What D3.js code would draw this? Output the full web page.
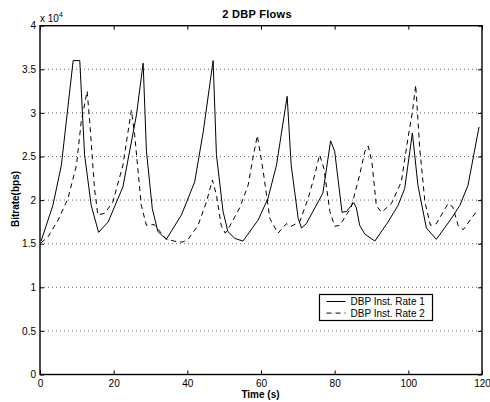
<!DOCTYPE html>
<html>
<head>
<meta charset="utf-8">
<script src="https://cdn.jsdelivr.net/npm/d3@7"></script>
<style>
  body { margin: 0; background: #fff; }
  svg text { font-family: "Liberation Sans", Arial, Helvetica, sans-serif; fill: #000; }
  .axis path { display: none; }
  .axis line { stroke: #000; stroke-width: 1; }
  .axis text { font-size: 10px; }
</style>
</head>
<body>
<div id="chart"></div>
<script>
// rates are in units of 10^4 bps
var time1 = [0.3, 3.5, 5.8, 9.0, 10.8, 12.1, 13.9, 15.9, 18.5, 22.5, 26.2, 28.0, 28.9, 30.5, 32.0, 34.3, 38.4, 42.0, 44.3, 47.0,
  47.9, 49.7, 51.0, 52.9, 55.1, 59.2, 61.9, 64.2, 67.1, 68.2, 70.1, 71.0, 72.3, 76.8, 78.9, 80.0, 82.0, 83.2, 85.2, 85.9,
  86.8, 88.2, 90.9, 94.5, 97.2, 99.0, 101.1, 102.6, 104.9, 107.6, 111.7, 114.0, 116.2, 119.2];
var rate1 = [1.53, 1.94, 2.40, 3.60, 3.60, 2.52, 1.94, 1.63, 1.75, 2.15, 2.98, 3.57, 2.56, 1.90, 1.64, 1.55, 1.83, 2.21, 2.78, 3.60,
  2.52, 1.87, 1.64, 1.56, 1.53, 1.77, 2.02, 2.40, 3.19, 2.40, 1.79, 1.68, 1.73, 2.08, 2.68, 2.56, 1.86, 1.87, 1.97, 1.91,
  1.71, 1.61, 1.53, 1.75, 1.94, 2.13, 2.77, 2.17, 1.68, 1.55, 1.79, 1.94, 2.17, 2.84];

var time2 = [0.3, 2.2, 4.9, 7.6, 9.9, 11.2, 12.8, 13.5, 14.8, 15.7, 17.6, 19.8, 22.5, 24.8, 25.7, 27.5, 28.9, 31.0, 34.3, 37.5,
  38.8, 40.2, 42.9, 45.2, 46.8, 47.9, 49.2, 50.3, 51.5, 54.2, 56.5, 57.8, 59.0, 60.5, 62.4, 64.6, 66.9, 68.2, 70.5, 72.8,
  74.6, 75.9, 77.1, 78.7, 80.0, 81.4, 84.5, 86.8, 88.2, 89.1, 90.1, 91.3, 92.7, 95.4, 98.1, 99.9, 101.1, 102.0, 103.1, 104.5,
  106.0, 107.6, 110.8, 112.1, 113.5, 114.9, 117.1, 118.9];
var rate2 = [1.51, 1.58, 1.77, 2.02, 2.40, 2.90, 3.25, 2.90, 2.13, 1.83, 1.85, 1.98, 2.40, 3.03, 2.75, 1.94, 1.71, 1.72, 1.55, 1.52,
  1.52, 1.55, 1.71, 1.98, 2.23, 2.06, 1.71, 1.62, 1.70, 1.91, 2.17, 2.48, 2.74, 2.36, 1.79, 1.62, 1.73, 1.70, 1.75, 2.02,
  2.29, 2.52, 2.36, 1.87, 1.70, 1.71, 1.92, 2.29, 2.56, 2.62, 2.44, 1.94, 1.86, 1.96, 2.21, 2.71, 3.01, 3.32, 2.59, 1.98,
  1.71, 1.73, 1.96, 1.92, 1.71, 1.66, 1.79, 1.89];

var xTicks = [0, 20, 40, 60, 80, 100, 120];
var yTicks = [0, 0.5, 1, 1.5, 2, 2.5, 3, 3.5, 4];
var seriesNames = ["DBP Inst. Rate 1", "DBP Inst. Rate 2"];

var W = 490, H = 402;
var margin = {left: 40, right: 8, top: 25.7, down: 27.5};
var width = W - margin.left - margin.right,
    height = H - margin.top - margin.down;

var svg = d3.select("#chart").append("svg").attr("width", W).attr("height", H);
var g = svg.append("g")
  .attr("transform", "translate(" + margin.left + "," + margin.top + ")");

var x = d3.scaleLinear().domain([0, 120]).range([0, width]);
var y = d3.scaleLinear().domain([0, 4]).range([height, 0]);

// dotted horizontal grid
g.selectAll(".grid")
  .data(yTicks.slice(1, -1))
  .enter().append("line")
    .attr("class", "grid")
    .attr("x1", 0).attr("x2", width)
    .attr("y1", function(d) { return y(d); })
    .attr("y2", function(d) { return y(d); })
    .style("stroke", "#444")
    .style("stroke-width", 0.8)
    .style("stroke-dasharray", "1,3");

// axes, ticks point inward
g.append("g")
  .attr("class", "axis")
  .attr("transform", "translate(0," + height + ")")
  .call(d3.axisBottom(x).tickValues(xTicks).tickSizeInner(-4).tickSizeOuter(0).tickPadding(5));
g.append("g")
  .attr("class", "axis")
  .call(d3.axisTop(x).tickValues(xTicks).tickSizeInner(-4).tickSizeOuter(0).tickFormat(""));
g.append("g")
  .attr("class", "axis")
  .call(d3.axisLeft(y).tickValues(yTicks).tickSizeInner(-4).tickSizeOuter(0).tickPadding(4)
    .tickFormat(function(d) { return d3.format("")(d); }));
g.append("g")
  .attr("class", "axis")
  .attr("transform", "translate(" + width + ",0)")
  .call(d3.axisRight(y).tickValues(yTicks).tickSizeInner(-4).tickSizeOuter(0).tickFormat(""));

// frame
g.append("rect")
  .attr("width", width).attr("height", height)
  .style("fill", "none").style("stroke", "#000").style("stroke-width", 1.4);

var line = d3.line()
  .x(function(d) { return x(d[0]); })
  .y(function(d) { return y(d[1]); });

g.append("path")
  .datum(d3.zip(time1, rate1))
  .attr("d", line)
  .style("fill", "none").style("stroke", "#000").style("stroke-width", 1);
g.append("path")
  .datum(d3.zip(time2, rate2))
  .attr("d", line)
  .style("fill", "none").style("stroke", "#000").style("stroke-width", 1)
  .style("stroke-dasharray", "5,4");

// legend
var lg = svg.append("g").attr("transform", "translate(319.5,294.5)");
lg.append("rect").attr("width", 113).attr("height", 26)
  .style("fill", "#fff").style("stroke", "#000").style("stroke-width", 1.2);
seriesNames.forEach(function(name, i) {
  lg.append("line")
    .attr("x1", 7).attr("x2", 26)
    .attr("y1", 7 + i * 11.6).attr("y2", 7 + i * 11.6)
    .style("stroke", "#000").style("stroke-width", 1)
    .style("stroke-dasharray", i == 0 ? null : "5,4");
  lg.append("text")
    .attr("x", 31).attr("y", 10.5 + i * 11.6)
    .style("font-size", "10px")
    .text(name);
});

// title and labels
svg.append("text")
  .attr("x", 257).attr("y", 18.3)
  .attr("text-anchor", "middle")
  .style("font-size", "11px").style("font-weight", "bold").style("letter-spacing", "0.3px")
  .text("2 DBP Flows");
svg.append("text")
  .attr("x", 260.5).attr("y", 398)
  .attr("text-anchor", "middle")
  .style("font-size", "10px").style("font-weight", "bold")
  .text("Time (s)");
svg.append("text")
  .attr("transform", "translate(19,199) rotate(-90)")
  .attr("text-anchor", "middle")
  .style("font-size", "10px").style("font-weight", "bold")
  .text("Bitrate(bps)");

// exponent label
var ex = svg.append("text").attr("x", 40).attr("y", 21.5).style("font-size", "10px");
ex.append("tspan").text("x 10");
ex.append("tspan").attr("dy", -5).style("font-size", "7px").text("4");
</script>
</body>
</html>
